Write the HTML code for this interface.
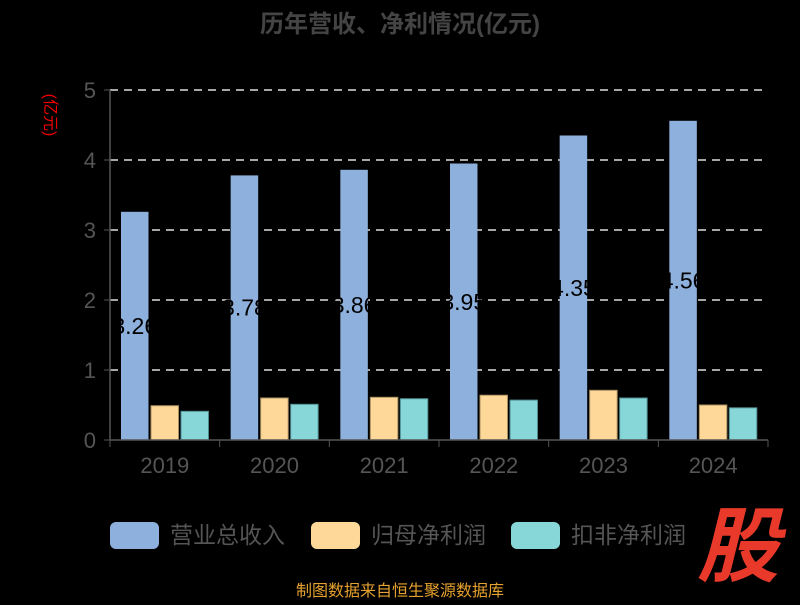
<!DOCTYPE html>
<html><head><meta charset="utf-8"><style>
html,body{margin:0;padding:0;background:#000;}
body{width:800px;height:600px;overflow:hidden;font-family:"Liberation Sans","Noto Sans CJK SC",sans-serif;}
</style></head><body>
<svg width="800" height="600" xmlns="http://www.w3.org/2000/svg" style="font-family:'Liberation Sans','Noto Sans CJK SC',sans-serif">
<text x="400" y="32" text-anchor="middle" font-size="24" font-weight="bold" fill="#444">历年营收、净利情况(亿元)</text>
<text transform="translate(45,115) rotate(90)" text-anchor="middle" font-size="16" fill="#e00">(亿元)</text>
<g id="grid"></g><g id="bars"></g><g id="axes"></g>
<g>
<rect x="110" y="522" width="49" height="27" rx="6" fill="#8eb0dd"/>
<text x="170" y="543" font-size="23" fill="#555">营业总收入</text>
<rect x="311" y="522" width="49" height="27" rx="6" fill="#fed898"/>
<text x="371" y="543" font-size="23" fill="#555">归母净利润</text>
<rect x="511" y="522" width="49" height="27" rx="6" fill="#87d6d8"/>
<text x="571" y="543" font-size="23" fill="#555">扣非净利润</text>
</g>
<text x="738" y="575" text-anchor="middle" font-size="82" font-weight="bold" font-style="italic" fill="#e8392a">股</text>
<text x="400" y="596" text-anchor="middle" font-size="16" fill="#e6a22e">制图数据来自恒生聚源数据库</text>
</svg>
<script>
const categories=["2019","2020","2021","2022","2023","2024"];
const revenue=[3.26,3.78,3.86,3.95,4.35,4.56];
const netProfit=[0.49,0.60,0.61,0.64,0.71,0.50];
const deducted=[0.41,0.51,0.59,0.57,0.60,0.46];
const yTicks=[0,1,2,3,4,5];
const NS="http://www.w3.org/2000/svg";
const x0=110,x1=768,y0=440,yTop=90,yMax=5;
const band=(x1-x0)/categories.length;
const y=v=>y0-(y0-yTop)*v/yMax;
function mk(t,a,p){const e=document.createElementNS(NS,t);for(const k in a)e.setAttribute(k,a[k]);p.appendChild(e);return e;}
const grid=document.getElementById('grid'),bars=document.getElementById('bars'),axes=document.getElementById('axes');
yTicks.forEach(t=>{
 if(t>0){const l=mk('line',{x1:x0,x2:x1,y1:y(t),y2:y(t),stroke:'#ddd','stroke-width':1.5,'stroke-dasharray':'8,6'},grid);
 
 }
 const tx=mk('text',{x:x0-14,y:y(t)+8,'text-anchor':'end','font-size':22,fill:'#555'},axes);tx.textContent=t;
 
 
 mk('line',{x1:x0-6,x2:x0,y1:y(t),y2:y(t),stroke:'#555'},axes);
});
mk('line',{x1:x0,x2:x0,y1:yTop,y2:y0,stroke:'#555','stroke-width':1.5},axes);
mk('line',{x1:x0,x2:x1,y1:y0,y2:y0,stroke:'#555','stroke-width':1.5},axes);
const bw=27.5,gap=2.5,off=11;
categories.forEach((c,i)=>{
 const bx=x0+i*band+off;
 mk('line',{x1:x0+i*band,x2:x0+i*band,y1:y0,y2:y0+7,stroke:'#555'},axes);
 if(i==categories.length-1)mk('line',{x1:x1,x2:x1,y1:y0,y2:y0+7,stroke:'#555'},axes);
 const t=mk('text',{x:x0+(i+0.5)*band,y:y0+33,'text-anchor':'middle','font-size':22,fill:'#555'},axes);t.textContent=c;
 
 
 const r1=mk('rect',{x:bx,y:y(revenue[i]),width:bw,height:y0-y(revenue[i]),fill:'#8eb0dd'},bars);
 
 
 const r2=mk('rect',{x:bx+bw+gap,y:y(netProfit[i]),width:bw,height:y0-y(netProfit[i]),fill:'#fed898',stroke:'#a88f60','stroke-width':1},bars);
 
 
 const r3=mk('rect',{x:bx+2*(bw+gap),y:y(deducted[i]),width:bw,height:y0-y(deducted[i]),fill:'#87d6d8',stroke:'#4f8c8e','stroke-width':1},bars);
 
 
 const lb=mk('text',{x:bx+bw/2,y:(y(revenue[i])+y0)/2+8,'text-anchor':'middle','font-size':23,fill:'#000'},bars);
 lb.textContent=revenue[i].toFixed(2);
 
 
});
</script>
</body></html>
